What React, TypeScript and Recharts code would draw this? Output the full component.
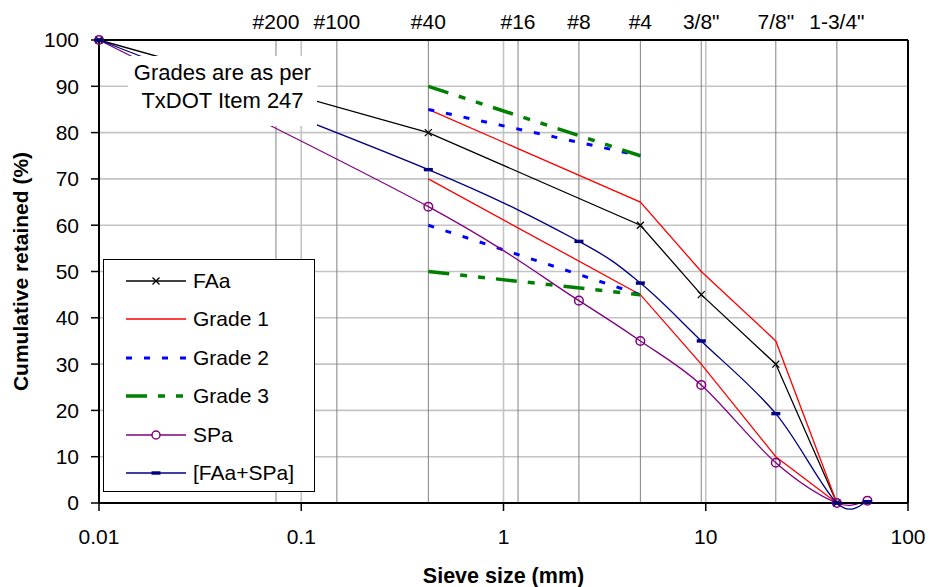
import React from 'react';
import { LineChart, Line, XAxis, YAxis, CartesianGrid, ReferenceLine } from 'recharts';

const FONT = '"Liberation Sans", Arial, Helvetica, sans-serif';

// Sieve sizes (mm) and their names shown along the top
const sieveSizes = [0.075, 0.15, 0.425, 1.18, 2.36, 4.75, 9.5, 22.2, 44.5];
const sieveLabels = ['#200', '#100', '#40', '#16', '#8', '#4', '3/8"', '7/8"', '1-3/4"'];

// Axis ticks
const xTicks = [0.01, 0.1, 1, 10, 100];
const yTicks = [0, 10, 20, 30, 40, 50, 60, 70, 80, 90, 100];

// FAa
const faaSize = [0.01, 0.425, 4.75, 9.5, 22.2, 44.5];
const faaRetained = [100, 80, 60, 45, 30, 0];

// Grade 1 limits
const grade1Size = [0.425, 4.75, 9.5, 22.2, 44.5];
const grade1Upper = [85, 65, 50, 35, 0];
const grade1Lower = [70, 45, 30, 10, 0];

// Grade 2 limits
const grade2Size = [0.425, 4.75];
const grade2Upper = [85, 75];
const grade2Lower = [60, 45];

// Grade 3 limits
const grade3Size = [0.425, 4.75];
const grade3Upper = [90, 75];
const grade3Lower = [50, 45];

// SPa
const spaSize = [0.01, 0.425, 2.36, 4.75, 9.5, 22.2, 44.5, 63];
const spaRetained = [100, 64, 43.7, 35, 25.5, 8.7, 0, 0.5];

// [FAa+SPa]
const blendSize = [0.01, 0.425, 2.36, 4.75, 9.5, 22.2, 44.5, 63];
const blendRetained = [100, 72, 56.5, 47.5, 35, 19.3, 0, 0.3];

const toPts = (xs: number[], ys: number[]) => xs.map((x, i) => ({ x, y: ys[i] }));

const faaData = toPts(faaSize, faaRetained);
const g1UpData = toPts(grade1Size, grade1Upper);
const g1LoData = toPts(grade1Size, grade1Lower);
const g2UpData = toPts(grade2Size, grade2Upper);
const g2LoData = toPts(grade2Size, grade2Lower);
const g3UpData = toPts(grade3Size, grade3Upper);
const g3LoData = toPts(grade3Size, grade3Lower);
const spaData = toPts(spaSize, spaRetained);
const blendData = toPts(blendSize, blendRetained);

const C_FAA = '#000000';
const C_G1 = '#ff0000';
const C_G2 = '#0000ff';
const C_G3 = '#008000';
const C_SPA = '#800080';
const C_BLEND = '#000080';

const G2_DASH = '6 12';
const G3_DASH = '21 11 7 11 7 11';

// Excel-like smoothed line (Catmull-Rom as cubic Bezier)
function smoothCurve(context: any) {
  let pts: number[][] = [];
  return {
    areaStart() {},
    areaEnd() {},
    lineStart() {
      pts = [];
    },
    point(x: number, y: number) {
      pts.push([+x, +y]);
    },
    lineEnd() {
      const n = pts.length;
      if (!n) return;
      context.moveTo(pts[0][0], pts[0][1]);
      for (let i = 0; i < n - 1; i++) {
        const p0 = pts[Math.max(i - 1, 0)];
        const p1 = pts[i];
        const p2 = pts[i + 1];
        const p3 = pts[Math.min(i + 2, n - 1)];
        context.bezierCurveTo(
          p1[0] + (p2[0] - p0[0]) / 6,
          p1[1] + (p2[1] - p0[1]) / 6,
          p2[0] - (p3[0] - p1[0]) / 6,
          p2[1] - (p3[1] - p1[1]) / 6,
          p2[0],
          p2[1]
        );
      }
    },
  };
}

const XDot = (p: any) => {
  const { cx, cy, index } = p;
  if (cx == null || cy == null) return <g key={`x${index}`} />;
  const s = 3.5;
  return (
    <path
      key={`x${index}`}
      d={`M${cx - s},${cy - s}L${cx + s},${cy + s}M${cx - s},${cy + s}L${cx + s},${cy - s}`}
      stroke={C_FAA}
      strokeWidth={1.3}
      fill="none"
    />
  );
};

const CircleDot = (p: any) => {
  const { cx, cy, index } = p;
  if (cx == null || cy == null) return <g key={`c${index}`} />;
  return <circle key={`c${index}`} cx={cx} cy={cy} r={4.3} stroke={C_SPA} strokeWidth={1.5} fill="none" />;
};

const DashDot = (p: any) => {
  const { cx, cy, index } = p;
  if (cx == null || cy == null) return <g key={`d${index}`} />;
  return <rect key={`d${index}`} x={cx - 4.5} y={cy - 1.7} width={9} height={3.4} fill={C_BLEND} />;
};

const fmtX = (v: number) => String(v);

const legendItems = [
  { name: 'FAa', color: C_FAA, dash: undefined as string | undefined, width: 1.3, marker: 'x' },
  { name: 'Grade 1', color: C_G1, dash: undefined, width: 1.3, marker: '' },
  { name: 'Grade 2', color: C_G2, dash: G2_DASH, width: 3, marker: '' },
  { name: 'Grade 3', color: C_G3, dash: G3_DASH, width: 3.5, marker: '' },
  { name: 'SPa', color: C_SPA, dash: undefined, width: 1.3, marker: 'o' },
  { name: '[FAa+SPa]', color: C_BLEND, dash: undefined, width: 1.3, marker: '-' },
];

const LegendBox = () => (
  <div
    style={{
      position: 'absolute',
      left: 103,
      top: 259,
      width: 212,
      height: 233,
      border: '1.5px solid #000',
      background: '#fff',
      boxSizing: 'border-box',
      fontFamily: FONT,
      fontSize: 21,
      color: '#000',
    }}
  >
    {legendItems.map((it, i) => (
      <div
        key={it.name}
        style={{ position: 'absolute', left: 0, top: 9.5 + i * 38.5, height: 22, display: 'flex', alignItems: 'center', whiteSpace: 'nowrap' }}
      >
        <svg width={64} height={14} style={{ marginLeft: 22, marginRight: 3, overflow: 'visible' }}>
          <line x1={0} y1={7} x2={60} y2={7} stroke={it.color} strokeWidth={it.width} strokeDasharray={it.dash} />
          {it.marker === 'x' && (
            <path d="M26.5,3.5L33.5,10.5M26.5,10.5L33.5,3.5" stroke={it.color} strokeWidth={1.3} fill="none" />
          )}
          {it.marker === 'o' && <circle cx={30} cy={7} r={4} stroke={it.color} strokeWidth={1.5} fill="#fff" />}
          {it.marker === '-' && <rect x={25.5} y={5.3} width={9} height={3.4} fill={it.color} />}
        </svg>
        <span>{it.name}</span>
      </div>
    ))}
  </div>
);

const NoteBox = () => (
  <div
    style={{
      position: 'absolute',
      left: 128,
      top: 56,
      width: 189,
      height: 70,
      background: '#fff',
      fontFamily: FONT,
      fontSize: 22,
      lineHeight: '28px',
      color: '#000',
      textAlign: 'center',
      paddingTop: 3,
      boxSizing: 'border-box',
      whiteSpace: 'nowrap',
    }}
  >
    Grades are as per
    <br />
    TxDOT Item 247
  </div>
);

export default function App() {
  const tickStyle = { fill: '#000', fontSize: 21, fontFamily: FONT };
  return (
    <div style={{ position: 'absolute', left: 0, top: 0, width: 930, height: 587, background: '#fff' }}>
      <LineChart width={930} height={587} margin={{ top: 40, right: 0, bottom: 0, left: 0 }}>
        <CartesianGrid xAxisId="bottom" stroke="#c4c4c4" strokeWidth={1.6} />
        <XAxis
          xAxisId="bottom"
          dataKey="x"
          type="number"
          scale="log"
          domain={[0.01, 100]}
          ticks={xTicks}
          tickFormatter={fmtX}
          interval={0}
          height={84}
          tickSize={8}
          tickMargin={18}
          tick={tickStyle}
          axisLine={{ stroke: '#000', strokeWidth: 2 }}
          tickLine={{ stroke: '#000', strokeWidth: 1.5 }}
          label={{
            value: 'Sieve size (mm)',
            position: 'insideBottom',
            offset: 4,
            fill: '#000',
            fontSize: 21.5,
            fontWeight: 'bold',
            fontFamily: FONT,
          }}
        />
        <YAxis
          type="number"
          domain={[0, 100]}
          ticks={yTicks}
          interval={0}
          width={99}
          tickSize={8}
          tickMargin={12}
          tick={tickStyle}
          axisLine={{ stroke: '#000', strokeWidth: 2 }}
          tickLine={{ stroke: '#000', strokeWidth: 1.5 }}
          label={{
            value: 'Cumulative retained (%)',
            angle: -90,
            position: 'insideLeft',
            offset: 21,
            textAnchor: 'middle',
            fill: '#000',
            fontSize: 21,
            fontWeight: 'bold',
            fontFamily: FONT,
          }}
        />
        <YAxis
          yAxisId="right"
          orientation="right"
          type="number"
          domain={[0, 100]}
          width={22}
          tick={false}
          tickLine={false}
          axisLine={{ stroke: '#000', strokeWidth: 2 }}
        />

        {sieveSizes.map((s, i) => (
          <ReferenceLine
            key={`sv${i}`}
            xAxisId="bottom"
            x={s}
            stroke="#808080"
            strokeWidth={1}
            label={{ value: sieveLabels[i], position: 'top', offset: 11, fill: '#000', fontSize: 21, fontFamily: FONT }}
          />
        ))}
        <ReferenceLine xAxisId="bottom" y={100} stroke="#000" strokeWidth={2} />

        <Line xAxisId="bottom" data={faaData} dataKey="y" type="linear" stroke={C_FAA} strokeWidth={1.3} dot={XDot} activeDot={false} isAnimationActive={false} />
        <Line xAxisId="bottom" data={g1UpData} dataKey="y" type="linear" stroke={C_G1} strokeWidth={1.3} dot={false} activeDot={false} isAnimationActive={false} />
        <Line xAxisId="bottom" data={g1LoData} dataKey="y" type="linear" stroke={C_G1} strokeWidth={1.3} dot={false} activeDot={false} isAnimationActive={false} />
        <Line xAxisId="bottom" data={g2UpData} dataKey="y" type="linear" stroke={C_G2} strokeWidth={3} strokeDasharray={G2_DASH} dot={false} activeDot={false} isAnimationActive={false} />
        <Line xAxisId="bottom" data={g2LoData} dataKey="y" type="linear" stroke={C_G2} strokeWidth={3} strokeDasharray={G2_DASH} dot={false} activeDot={false} isAnimationActive={false} />
        <Line xAxisId="bottom" data={g3UpData} dataKey="y" type="linear" stroke={C_G3} strokeWidth={3.5} strokeDasharray={G3_DASH} dot={false} activeDot={false} isAnimationActive={false} />
        <Line xAxisId="bottom" data={g3LoData} dataKey="y" type="linear" stroke={C_G3} strokeWidth={3.5} strokeDasharray={G3_DASH} dot={false} activeDot={false} isAnimationActive={false} />
        <Line xAxisId="bottom" data={spaData} dataKey="y" type={smoothCurve as any} stroke={C_SPA} strokeWidth={1.3} dot={CircleDot} activeDot={false} isAnimationActive={false} />
        <Line xAxisId="bottom" data={blendData} dataKey="y" type={smoothCurve as any} stroke={C_BLEND} strokeWidth={1.3} dot={DashDot} activeDot={false} isAnimationActive={false} />
      </LineChart>
      <NoteBox />
      <LegendBox />
    </div>
  );
}
